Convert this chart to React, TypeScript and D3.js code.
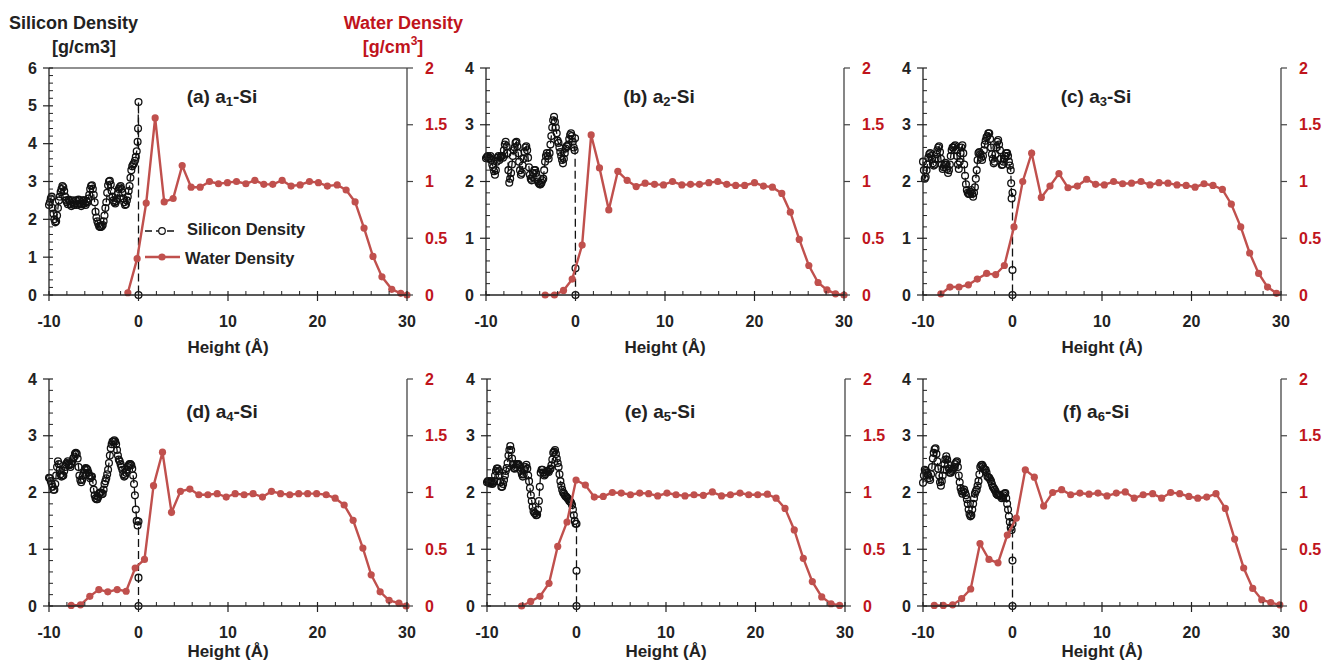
import React from 'react';
import * as d3 from 'd3';

// ---------- DATA ----------
// Silicon density read on two interleaved height grids (even and odd tenths of Å)
const siHeights = [-10, -9.8, -9.6, -9.4, -9.2, -9, -8.8, -8.6, -8.4, -8.2, -8, -7.8, -7.6, -7.4, -7.2, -7, -6.8, -6.6, -6.4, -6.2, -6, -5.8, -5.6, -5.4, -5.2, -5, -4.8, -4.6, -4.4, -4.2, -4, -3.8, -3.6, -3.4, -3.2, -3, -2.8, -2.6, -2.4, -2.2, -2, -1.8, -1.6, -1.4, -1.2, -1, -0.8, -0.6, -0.4, -0.2];
const siHeightsOdd = [-9.9, -9.7, -9.5, -9.3, -9.1, -8.9, -8.7, -8.5, -8.3, -8.1, -7.9, -7.7, -7.5, -7.3, -7.1, -6.9, -6.7, -6.5, -6.3, -6.1, -5.9, -5.7, -5.5, -5.3, -5.1, -4.9, -4.7, -4.5, -4.3, -4.1, -3.9, -3.7, -3.5, -3.3, -3.1, -2.9, -2.7, -2.5, -2.3, -2.1, -1.9, -1.7, -1.5, -1.3, -1.1, -0.9, -0.7, -0.5, -0.3];

const siA = [2.38, 2.55, 2.3, 2.0, 1.95, 2.3, 2.6, 2.8, 2.85, 2.6, 2.45, 2.52, 2.4, 2.5, 2.38, 2.5, 2.42, 2.5, 2.35, 2.5, 2.42, 2.48, 2.55, 2.8, 2.9, 2.65, 2.2, 1.95, 1.82, 1.8, 1.85, 2.1, 2.45, 2.9, 3.02, 2.75, 2.5, 2.42, 2.55, 2.8, 2.88, 2.7, 2.45, 2.4, 2.6, 2.88, 3.3, 3.45, 3.55, 3.8];
const siAOdd = [2.45, 2.6, 2.15, 1.92, 2.1, 2.5, 2.72, 2.88, 2.75, 2.5, 2.4, 2.48, 2.35, 2.45, 2.42, 2.38, 2.52, 2.42, 2.4, 2.5, 2.38, 2.45, 2.65, 2.88, 2.8, 2.45, 2.05, 1.88, 1.8, 1.82, 1.95, 2.3, 2.7, 3.0, 2.92, 2.6, 2.45, 2.48, 2.68, 2.85, 2.8, 2.55, 2.38, 2.5, 2.75, 3.1, 3.4, 3.48, 3.65];
const siTailA = [[-0.1, 4.05], [-0.05, 4.4], [0, 5.1], [0, 0]];

const siB = [2.41, 2.45, 2.42, 2.38, 2.25, 2.12, 2.35, 2.45, 2.42, 2.45, 2.55, 2.7, 2.5, 1.98, 2.15, 2.45, 2.6, 2.7, 2.5, 2.2, 2.15, 2.4, 2.6, 2.55, 2.25, 2.05, 2.08, 2.2, 2.15, 2.0, 1.95, 1.98, 2.05, 2.35, 2.5, 2.4, 2.65, 2.95, 3.14, 2.95, 2.72, 2.6, 2.45, 2.32, 2.5, 2.62, 2.65, 2.82, 2.8, 2.6];
const siBOdd = [2.43, 2.4, 2.45, 2.3, 2.18, 2.2, 2.42, 2.38, 2.45, 2.42, 2.65, 2.62, 2.2, 2.05, 2.3, 2.55, 2.68, 2.62, 2.35, 2.12, 2.28, 2.52, 2.62, 2.42, 2.12, 2.02, 2.15, 2.2, 2.08, 1.97, 1.95, 2.02, 2.2, 2.45, 2.45, 2.5, 2.8, 3.08, 3.05, 2.85, 2.68, 2.52, 2.38, 2.4, 2.58, 2.62, 2.75, 2.85, 2.7];
const siTailB = [[-0.1, 2.55], [-0.05, 2.76], [0, 0.47], [0, 0]];

const siC = [2.35, 2.05, 2.2, 2.42, 2.5, 2.4, 2.28, 2.4, 2.55, 2.62, 2.4, 2.22, 2.3, 2.3, 2.15, 2.3, 2.55, 2.6, 2.64, 2.45, 2.22, 2.5, 2.64, 2.3, 1.95, 1.8, 1.78, 1.85, 1.73, 1.9, 2.2, 2.5, 2.48, 2.38, 2.55, 2.72, 2.8, 2.85, 2.6, 2.4, 2.35, 2.6, 2.73, 2.55, 2.29, 2.35, 2.45, 2.5, 2.35, 2.2];
const siCOdd = [2.2, 2.08, 2.3, 2.48, 2.45, 2.32, 2.3, 2.48, 2.6, 2.52, 2.3, 2.25, 2.33, 2.22, 2.2, 2.45, 2.6, 2.62, 2.55, 2.3, 2.35, 2.6, 2.5, 2.1, 1.85, 1.78, 1.82, 1.78, 1.8, 2.05, 2.38, 2.52, 2.42, 2.45, 2.65, 2.78, 2.85, 2.75, 2.48, 2.32, 2.48, 2.7, 2.65, 2.4, 2.3, 2.4, 2.5, 2.45, 2.28];
const siTailC = [[-0.15, 1.97], [-0.1, 1.7], [0, 1.8], [0, 0.44], [0, 0]];

const siD = [2.26, 2.2, 2.1, 2.05, 2.3, 2.55, 2.4, 2.28, 2.3, 2.45, 2.52, 2.5, 2.45, 2.55, 2.62, 2.7, 2.6, 2.3, 2.18, 2.3, 2.4, 2.42, 2.35, 2.25, 2.28, 2.05, 1.9, 1.88, 1.98, 2.0, 1.98, 2.15, 2.25, 2.4, 2.65, 2.85, 2.9, 2.9, 2.75, 2.58, 2.5, 2.4, 2.28, 2.35, 2.45, 2.5, 2.48, 2.3, 1.95, 1.5];
const siDOdd = [2.25, 2.15, 2.05, 2.15, 2.45, 2.5, 2.32, 2.3, 2.38, 2.5, 2.55, 2.48, 2.5, 2.6, 2.68, 2.68, 2.45, 2.22, 2.22, 2.35, 2.43, 2.4, 2.3, 2.28, 2.18, 1.95, 1.88, 1.92, 2.0, 1.97, 2.05, 2.2, 2.32, 2.52, 2.78, 2.9, 2.92, 2.85, 2.65, 2.55, 2.45, 2.32, 2.3, 2.4, 2.48, 2.5, 2.42, 2.15, 1.7];
const siTailD = [[-0.1, 1.42], [0, 1.49], [0, 0.5], [0, 0]];

const siE = [2.18, 2.18, 2.2, 2.15, 2.2, 2.38, 2.42, 2.3, 2.1, 2.15, 2.3, 2.43, 2.65, 2.82, 2.6, 2.43, 2.45, 2.5, 2.48, 2.38, 2.28, 2.4, 2.49, 2.3, 2.08, 1.85, 1.67, 1.63, 1.61, 1.85, 2.35, 2.4, 2.3, 2.35, 2.38, 2.4, 2.48, 2.7, 2.75, 2.6, 2.45, 2.2, 2.05, 1.98, 1.93, 1.9, 1.85, 1.82, 1.7, 1.5];
const siEOdd = [2.2, 2.16, 2.18, 2.17, 2.3, 2.42, 2.38, 2.18, 2.1, 2.22, 2.38, 2.52, 2.75, 2.75, 2.5, 2.42, 2.5, 2.5, 2.45, 2.32, 2.32, 2.45, 2.42, 2.2, 1.95, 1.75, 1.64, 1.6, 1.7, 2.1, 2.4, 2.35, 2.32, 2.38, 2.36, 2.42, 2.58, 2.72, 2.68, 2.52, 2.32, 2.12, 2.0, 1.95, 1.92, 1.88, 1.84, 1.78, 1.6];
const siTailE = [[-0.1, 1.45], [0, 1.45], [0, 0.62], [0, 0]];

const siF = [2.17, 2.4, 2.35, 2.3, 2.22, 2.45, 2.7, 2.78, 2.55, 2.3, 2.12, 2.3, 2.5, 2.64, 2.5, 2.35, 2.38, 2.42, 2.5, 2.55, 2.3, 2.08, 1.98, 2.05, 1.95, 1.8, 1.62, 1.6, 1.8, 1.98, 2.05, 2.2, 2.45, 2.49, 2.42, 2.4, 2.28, 2.26, 2.2, 2.1, 2.05, 1.98, 1.95, 1.96, 1.9, 1.95, 1.99, 1.8, 1.58, 1.38];
const siFOdd = [2.3, 2.38, 2.32, 2.25, 2.32, 2.6, 2.76, 2.68, 2.42, 2.18, 2.2, 2.4, 2.58, 2.58, 2.42, 2.35, 2.4, 2.45, 2.53, 2.45, 2.18, 2.02, 2.02, 2.0, 1.88, 1.7, 1.58, 1.7, 1.9, 2.02, 2.12, 2.32, 2.48, 2.46, 2.4, 2.35, 2.27, 2.23, 2.15, 2.08, 2.02, 1.96, 1.95, 1.93, 1.92, 1.98, 1.9, 1.7, 1.48];
const siTailF = [[-0.1, 1.34], [0, 1.45], [0, 0.8], [0, 0]];

// Water density
const wHA = [-1.19, -0.15, 0.86, 1.86, 2.87, 3.87, 4.88, 5.88, 6.89, 7.93, 8.94, 9.94, 10.95, 12.0, 13.0, 14.0, 15.0, 16.05, 17.05, 18.06, 19.1, 20.1, 21.1, 22.2, 23.2, 24.2, 25.2, 26.2, 27.2, 28.3, 29.3, 30.0];
const wA = [0.02, 0.32, 0.81, 1.56, 0.82, 0.85, 1.14, 0.95, 0.95, 1.0, 0.98, 0.99, 1.0, 0.98, 1.01, 0.975, 0.975, 1.01, 0.96, 0.97, 1.0, 0.99, 0.96, 0.97, 0.925, 0.82, 0.59, 0.34, 0.16, 0.05, 0.015, 0.0];
const wHB = [-3.39, -2.35, -1.34, -0.37, 0.74, 1.75, 2.68, 3.72, 4.73, 5.77, 6.78, 7.78, 8.83, 9.83, 10.84, 11.88, 12.85, 13.85, 14.9, 15.9, 16.9, 17.9, 18.9, 20.0, 21.0, 22.0, 23.05, 24.0, 25.0, 26.07, 27.1, 28.1, 29.05, 30.0];
const wB = [0, 0, 0.04, 0.14, 0.44, 1.41, 1.12, 0.75, 1.09, 1.01, 0.955, 0.985, 0.975, 0.97, 1.0, 0.97, 0.975, 0.975, 0.99, 1.0, 0.975, 0.965, 0.965, 0.99, 0.96, 0.95, 0.895, 0.73, 0.49, 0.26, 0.11, 0.045, 0.01, 0];
const wHC = [-8.0, -6.99, -5.98, -4.93, -3.93, -2.89, -1.88, -0.91, 0.17, 1.14, 2.14, 3.22, 4.19, 5.19, 6.2, 7.24, 8.29, 9.29, 10.26, 11.3, 12.3, 13.3, 14.36, 15.36, 16.37, 17.37, 18.38, 19.4, 20.4, 21.4, 22.4, 23.45, 24.45, 25.5, 26.5, 27.5, 28.5, 29.5];
const wC = [0.01, 0.07, 0.07, 0.09, 0.14, 0.19, 0.18, 0.26, 0.6, 1.0, 1.25, 0.86, 0.96, 1.07, 0.945, 0.96, 1.02, 0.975, 0.97, 1.0, 0.98, 0.985, 1.0, 0.97, 0.99, 0.985, 0.97, 0.965, 0.95, 0.98, 0.965, 0.93, 0.8, 0.6, 0.37, 0.19, 0.07, 0.015];
const wHD = [-7.52, -6.48, -5.44, -4.43, -3.43, -2.38, -1.38, -0.37, 0.67, 1.68, 2.68, 3.69, 4.69, 5.74, 6.74, 7.75, 8.79, 9.8, 10.8, 11.8, 12.8, 13.85, 14.86, 15.87, 16.9, 17.9, 18.9, 19.9, 20.97, 21.97, 22.98, 23.98, 25.07, 26.0, 27.0, 28.0, 29.1, 29.9];
const wD = [0.005, 0.01, 0.085, 0.145, 0.125, 0.145, 0.13, 0.335, 0.41, 1.06, 1.355, 0.825, 1.01, 1.03, 0.98, 0.98, 0.99, 0.96, 0.99, 0.98, 0.99, 0.96, 1.01, 0.99, 0.98, 0.99, 0.99, 0.99, 0.98, 0.95, 0.89, 0.755, 0.51, 0.275, 0.125, 0.05, 0.025, 0];
const wHE = [-6.13, -5.12, -4.08, -3.07, -2.1, -1.06, -0.05, 0.99, 1.99, 2.99, 4.0, 5.0, 6.03, 7.06, 8.06, 9.07, 10.11, 11.12, 12.12, 13.13, 14.17, 15.18, 16.2, 17.2, 18.27, 19.24, 20.25, 21.33, 22.3, 23.3, 24.33, 25.34, 26.35, 27.4, 28.44, 29.4];
const wE = [0, 0.04, 0.085, 0.2, 0.525, 0.74, 1.11, 1.065, 0.96, 0.965, 1.0, 0.995, 0.98, 0.995, 0.99, 0.97, 0.995, 0.98, 0.97, 0.98, 0.975, 1.005, 0.97, 0.98, 0.995, 0.98, 0.98, 0.985, 0.95, 0.86, 0.67, 0.42, 0.215, 0.08, 0.02, 0.005];
const wHF = [-8.74, -7.73, -6.69, -5.68, -4.67, -3.63, -2.63, -1.62, -0.58, 0.43, 1.43, 2.44, 3.48, 4.49, 5.49, 6.5, 7.53, 8.55, 9.55, 10.56, 11.6, 12.6, 13.6, 14.6, 15.66, 16.66, 17.67, 18.68, 19.7, 20.7, 21.7, 22.74, 23.78, 24.82, 25.83, 26.84, 27.85, 28.85, 29.87];
const wF = [0.005, 0.005, 0.01, 0.065, 0.15, 0.55, 0.41, 0.38, 0.625, 0.775, 1.2, 1.135, 0.88, 1.0, 1.025, 0.98, 0.995, 0.985, 0.995, 0.97, 0.995, 1.005, 0.95, 0.98, 0.99, 0.95, 1.0, 0.99, 0.965, 0.95, 0.96, 0.99, 0.86, 0.59, 0.335, 0.155, 0.055, 0.03, 0.01];

const xTickLabels = [-10, 0, 10, 20, 30];
const rightTicks = [0, 0.5, 1, 1.5, 2];
const panelLetters = ['a', 'b', 'c', 'd', 'e', 'f'];
const panelSubs = ['1', '2', '3', '4', '5', '6'];

// ---------- STYLE / LAYOUT ----------
const FONT = '"Liberation Sans", Arial, Helvetica, sans-serif';
const RED_LINE = '#c0504d';
const RED_TEXT = '#c0141c';
const PW = 358;
const PH = 227;

const panels = [
  { left: 49, top: 68, yMax: 6, si: siA, siOdd: siAOdd, tail: siTailA, wh: wHA, w: wA, row: 0, topLine: true, legend: true },
  { left: 486, top: 68, yMax: 4, si: siB, siOdd: siBOdd, tail: siTailB, wh: wHB, w: wB, row: 0 },
  { left: 923, top: 68, yMax: 4, si: siC, siOdd: siCOdd, tail: siTailC, wh: wHC, w: wC, row: 0 },
  { left: 49, top: 379, yMax: 4, si: siD, siOdd: siDOdd, tail: siTailD, wh: wHD, w: wD, row: 1 },
  { left: 487, top: 379, yMax: 4, si: siE, siOdd: siEOdd, tail: siTailE, wh: wHE, w: wE, row: 1 },
  { left: 923, top: 379, yMax: 4, si: siF, siOdd: siFOdd, tail: siTailF, wh: wHF, w: wF, row: 1 },
];

function Panel({ p, idx }: { p: any; idx: number }) {
  const x = d3.scaleLinear().domain([-10, 30]).range([p.left, p.left + PW]);
  const yL = d3.scaleLinear().domain([0, p.yMax]).range([p.top + PH, p.top]);
  const yR = d3.scaleLinear().domain([0, 2]).range([p.top + PH, p.top]);
  const bottom = p.top + PH;
  const right = p.left + PW;

  const grid: [number, number][] = siHeights
    .map((h, i) => [h, p.si[i]] as [number, number])
    .concat(siHeightsOdd.map((h, i) => [h, p.siOdd[i]] as [number, number]))
    .sort((a, b) => a[0] - b[0]);
  const siPts: [number, number][] = grid.concat(p.tail);
  const wPts: [number, number][] = p.wh.map((h: number, i: number) => [h, p.w[i]] as [number, number]);

  const siLine = d3.line<[number, number]>().x((d) => x(d[0])).y((d) => yL(d[1]));
  const wLine = d3.line<[number, number]>().x((d) => x(d[0])).y((d) => yR(d[1]));

  const majorsY = d3.range(0, p.yMax + 0.001, 1);
  const minorsY = d3.range(0, p.yMax + 0.001, 0.2).filter((v) => Math.abs(v - Math.round(v)) > 0.01);
  const minorsX = d3.range(-10, 30.01, 2).filter((v) => v % 10 !== 0);

  const xLabelDy = 26;
  const heightDy = p.row === 0 ? 52 : 45;
  const titleDy = p.row === 0 ? 28 : 32;
  const cx = (p.left + right) / 2;

  return (
    <g>
      {/* silicon */}
      <path d={siLine(siPts) || ''} fill="none" stroke="#111" strokeWidth={1.3} strokeDasharray="8,4" />
      {siPts.map((d, i) => (
        <circle key={'s' + i} cx={x(d[0])} cy={yL(d[1])} r={3.4} fill="none" stroke="#111" strokeWidth={1.3} />
      ))}
      {/* water */}
      <path d={wLine(wPts) || ''} fill="none" stroke={RED_LINE} strokeWidth={2.4} />
      {wPts.map((d, i) => (
        <circle key={'w' + i} cx={x(d[0])} cy={yR(d[1])} r={3.6} fill={RED_LINE} />
      ))}

      {/* axes */}
      {p.topLine && <line x1={p.left} x2={right} y1={p.top} y2={p.top} stroke="#222" strokeWidth={1.2} />}
      <line x1={p.left} x2={p.left} y1={p.top} y2={bottom} stroke="#222" strokeWidth={1.3} />
      <line x1={right} x2={right} y1={p.top} y2={bottom} stroke="#444" strokeWidth={1.3} />
      <line x1={p.left} x2={right} y1={bottom} y2={bottom} stroke="#222" strokeWidth={1.3} />

      {majorsY.map((v) => (
        <g key={'ly' + v}>
          <line x1={p.left - 6} x2={p.left + 4} y1={yL(v)} y2={yL(v)} stroke="#222" strokeWidth={1.2} />
          <text x={p.left - 12} y={yL(v)} textAnchor="end" dominantBaseline="central" fontSize={16} fontWeight="bold" fill="#222" fontFamily={FONT}>
            {v}
          </text>
        </g>
      ))}
      {minorsY.map((v, i) => (
        <line key={'my' + i} x1={p.left} x2={p.left + 4} y1={yL(v)} y2={yL(v)} stroke="#222" strokeWidth={1} />
      ))}
      {rightTicks.map((v) => (
        <g key={'ry' + v}>
          <line x1={right} x2={right + 6} y1={yR(v)} y2={yR(v)} stroke="#444" strokeWidth={1.2} />
          <text x={right + 18} y={yR(v)} textAnchor="start" dominantBaseline="central" fontSize={16} fontWeight="bold" fill={RED_TEXT} fontFamily={FONT}>
            {v}
          </text>
        </g>
      ))}
      {xTickLabels.map((v) => (
        <g key={'x' + v}>
          <line x1={x(v)} x2={x(v)} y1={bottom - 4} y2={bottom + 6} stroke="#222" strokeWidth={1.2} />
          <text x={x(v)} y={bottom + xLabelDy} textAnchor="middle" dominantBaseline="central" fontSize={16} fontWeight="bold" fill="#222" fontFamily={FONT}>
            {v}
          </text>
        </g>
      ))}
      {minorsX.map((v) => (
        <line key={'mx' + v} x1={x(v)} x2={x(v)} y1={bottom - 4} y2={bottom} stroke="#222" strokeWidth={1} />
      ))}
      <text x={cx} y={bottom + heightDy} textAnchor="middle" dominantBaseline="central" fontSize={17} fontWeight="bold" fill="#222" fontFamily={FONT}>
        Height (Å)
      </text>

      {/* title */}
      <text x={cx - 6} y={p.top + titleDy} textAnchor="middle" dominantBaseline="central" fontSize={19} fontWeight="bold" fill="#222" fontFamily={FONT}>
        ({panelLetters[idx]}) a
        <tspan fontSize={13} dy={5}>{panelSubs[idx]}</tspan>
        <tspan dy={-5}>-Si</tspan>
      </text>

      {p.legend && (
        <g fontFamily={FONT} fontWeight="bold" fontSize={16.5} fill="#222">
          <line x1={145} x2={176} y1={231} y2={231} stroke="#111" strokeWidth={1.3} strokeDasharray="7,4" />
          <circle cx={162} cy={231} r={3.3} fill="#fff" stroke="#111" strokeWidth={1.2} />
          <text x={187} y={229} dominantBaseline="central">Silicon Density</text>
          <line x1={145} x2={180} y1={257} y2={257} stroke={RED_LINE} strokeWidth={2.4} />
          <circle cx={162} cy={257} r={3.6} fill={RED_LINE} />
          <text x={185} y={258} dominantBaseline="central">Water Density</text>
        </g>
      )}
    </g>
  );
}

export default function App() {
  return (
    <svg width={1325} height={661} style={{ position: 'absolute', left: 0, top: 0, background: '#fff' }}>
      <rect x={0} y={0} width={1325} height={661} fill="#fff" />
      <g fontFamily={FONT} fontWeight="bold">
        <text x={9} y={23} fontSize={18} fill="#222" dominantBaseline="central">Silicon Density</text>
        <text x={84} y={47} fontSize={18} fill="#222" textAnchor="middle" dominantBaseline="central">[g/cm3]</text>
        <text x={463} y={23} fontSize={18} fill={RED_TEXT} textAnchor="end" dominantBaseline="central">Water Density</text>
        <text x={393} y={47} fontSize={18} fill={RED_TEXT} textAnchor="middle" dominantBaseline="central">
          [g/cm<tspan fontSize={12} dy={-6}>3</tspan><tspan dy={6}>]</tspan>
        </text>
      </g>
      {panels.map((p, i) => (
        <Panel key={i} p={p} idx={i} />
      ))}
    </svg>
  );
}
